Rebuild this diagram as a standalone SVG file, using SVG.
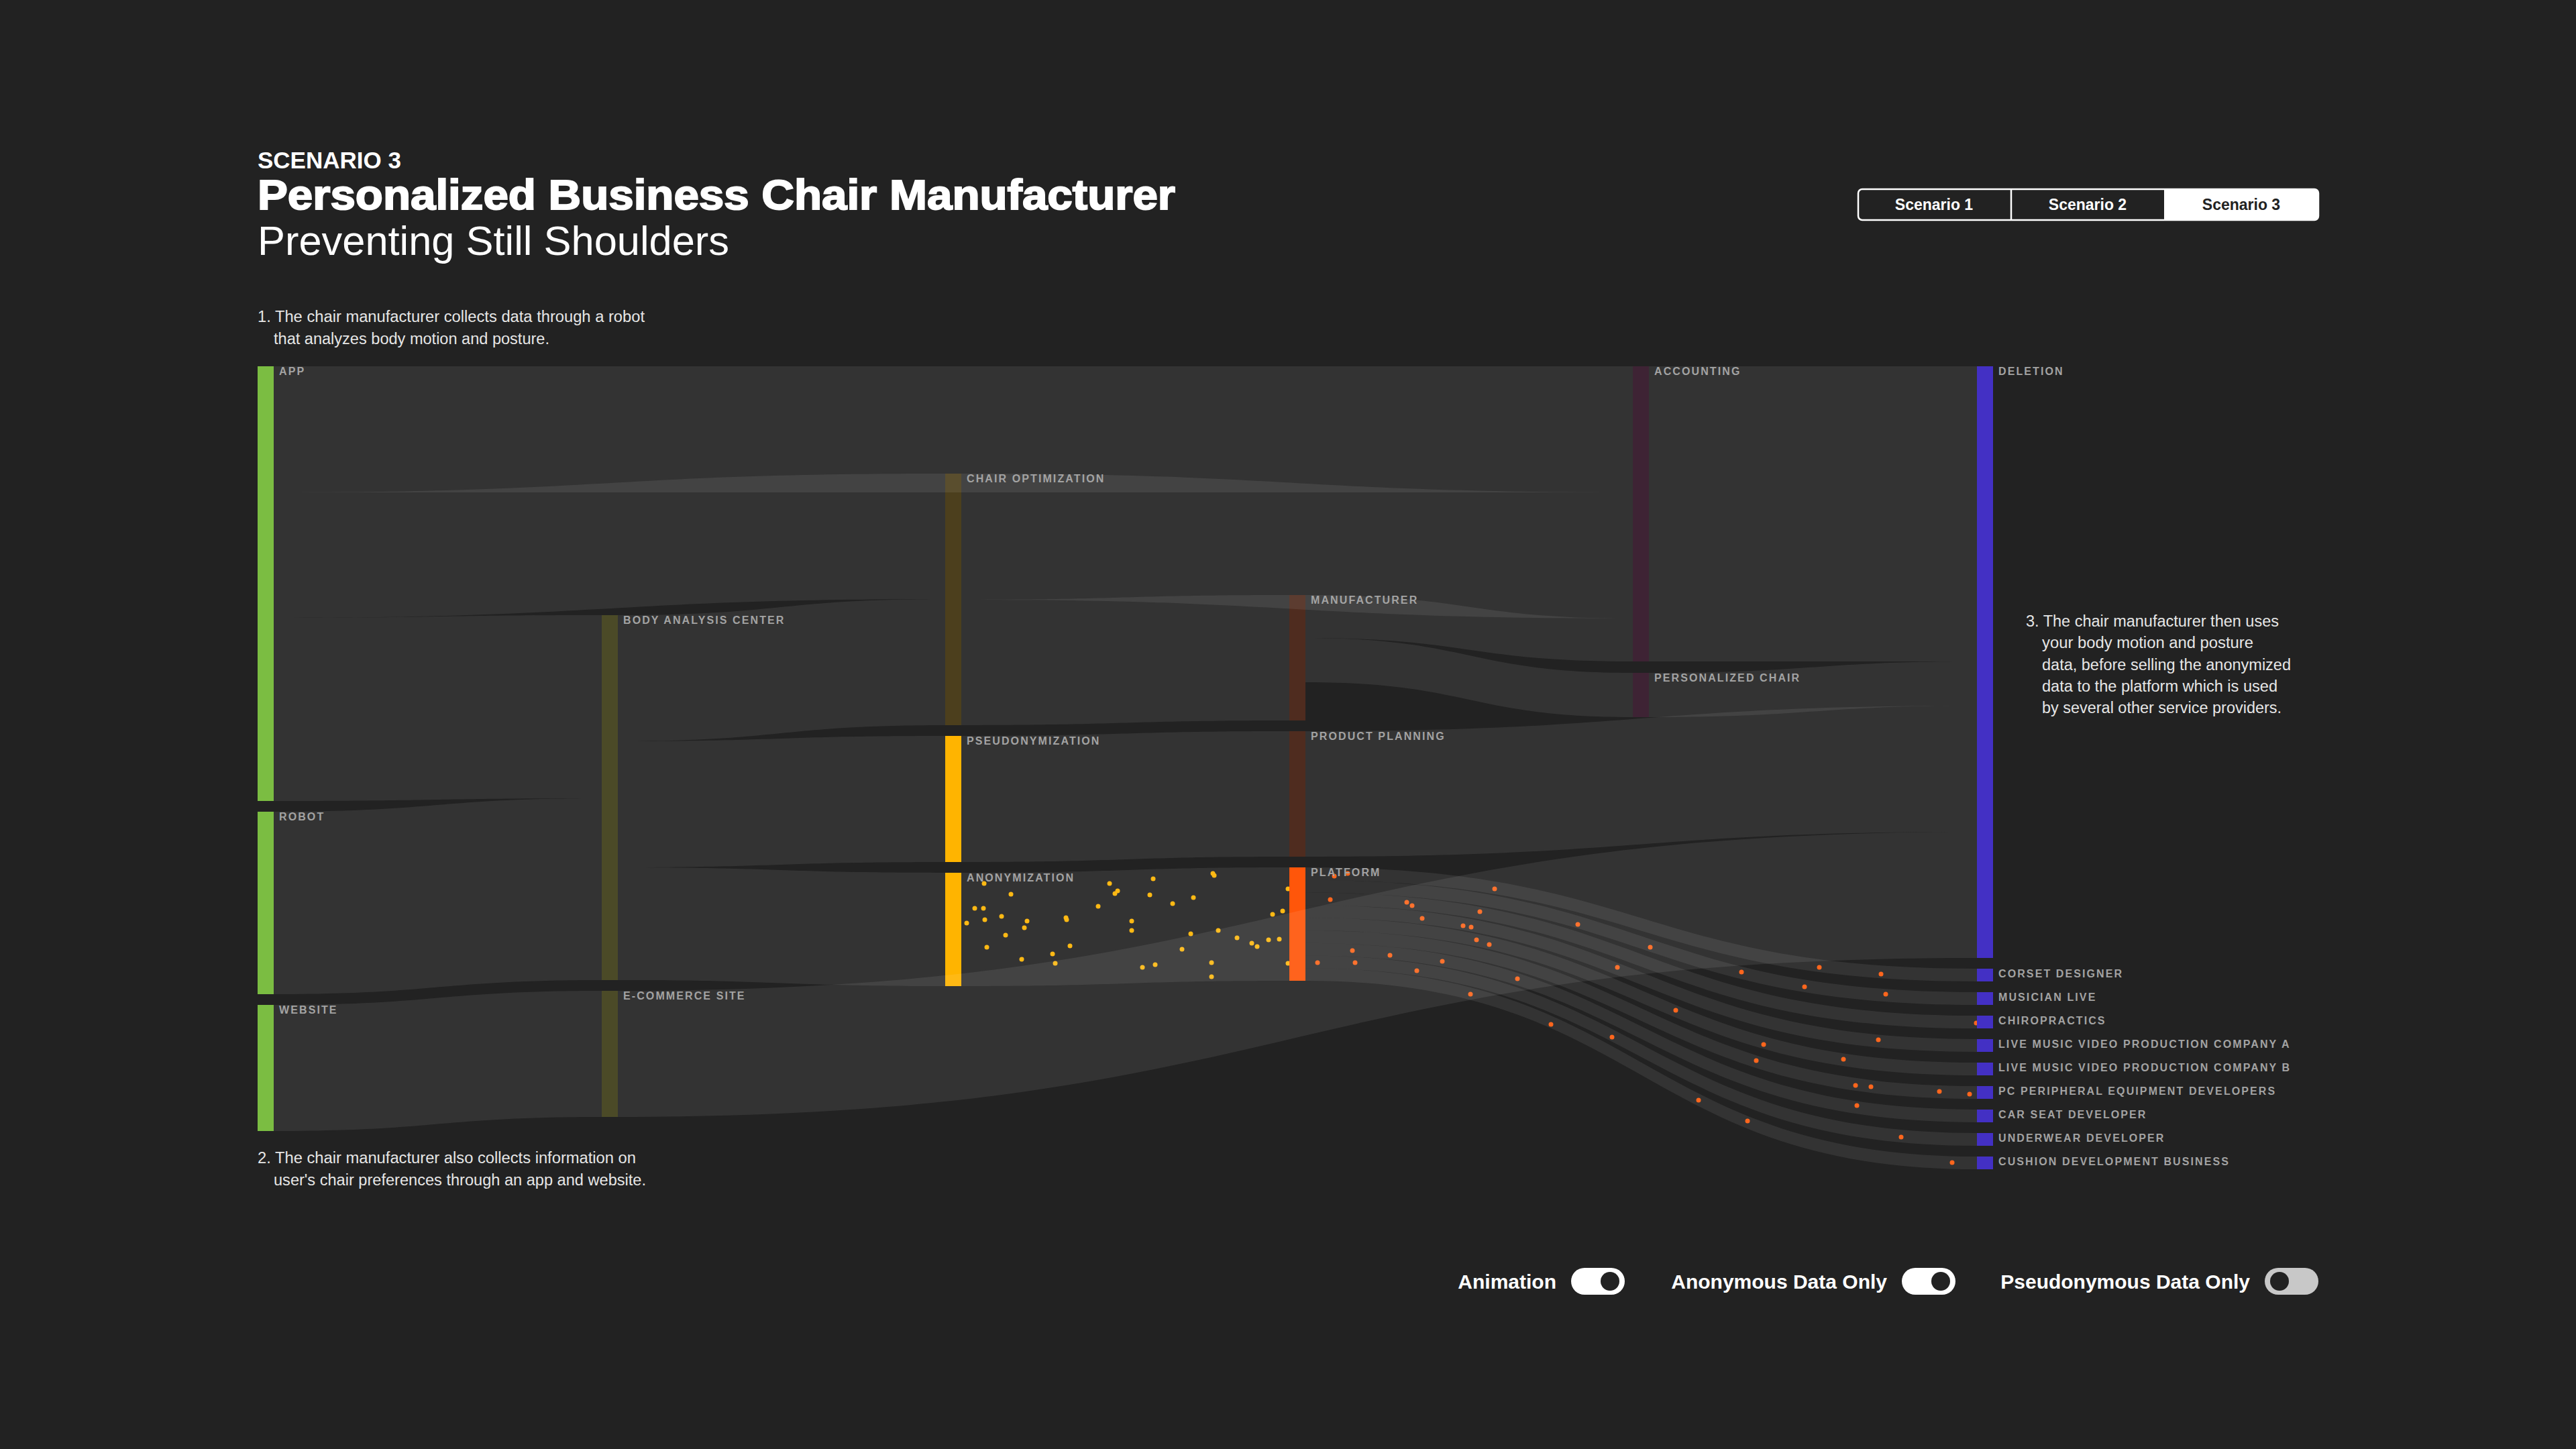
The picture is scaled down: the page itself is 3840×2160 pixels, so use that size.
<svg xmlns="http://www.w3.org/2000/svg" width="3840" height="2160" viewBox="0 0 3840 2160">
<style>
.lbl{font-family:"Liberation Sans",Arial,sans-serif;font-weight:bold;font-size:16px;letter-spacing:2.1px;fill:#a3a3a3}
.para{font-family:"Liberation Sans",Arial,sans-serif;font-size:23.5px;fill:#e6e6e6}
.lnk{fill:#ffffff;fill-opacity:0.077}
.ydot{fill:#ffb400}
.odot{fill:#ff5a0a}
.btn{font-family:"Liberation Sans",Arial,sans-serif;font-weight:bold;font-size:23px;text-anchor:middle}
.tgl{font-family:"Liberation Sans",Arial,sans-serif;font-weight:bold;font-size:30px;fill:#ffffff;text-anchor:end}
</style>
<rect x="0" y="0" width="3840" height="2160" fill="#222222"/>

<g id="header">
<text x="384" y="251" font-family="Liberation Sans, Arial, sans-serif" font-weight="bold" font-size="35" fill="#ffffff">SCENARIO 3</text>
<text x="384" y="312" font-family="Liberation Sans, Arial, sans-serif" font-weight="bold" font-size="63" fill="#ffffff" stroke="#ffffff" stroke-width="2" textLength="1368" lengthAdjust="spacingAndGlyphs">Personalized Business Chair Manufacturer</text>
<text x="384" y="380" font-family="Liberation Sans, Arial, sans-serif" font-weight="300" font-size="62" fill="#ffffff" textLength="703" lengthAdjust="spacingAndGlyphs">Preventing Still Shoulders</text>
</g>

<g id="scenario-buttons">
<path d="M3226 282 H3450 A6 6 0 0 1 3456 288 V322 A6 6 0 0 1 3450 328 H3226 Z" fill="#ffffff"/>
<rect x="2770" y="282" width="686" height="46" rx="6" fill="none" stroke="#ffffff" stroke-width="2.5"/>
<line x1="2998" y1="282" x2="2998" y2="328" stroke="#ffffff" stroke-width="2.5"/>
<text class="btn" x="2883" y="313" fill="#ffffff">Scenario 1</text>
<text class="btn" x="3112" y="313" fill="#ffffff">Scenario 2</text>
<text class="btn" x="3341" y="313" fill="#222222">Scenario 3</text>
</g>

<g id="notes">
<text class="para" x="384" y="480" textLength="577" lengthAdjust="spacingAndGlyphs">1. The chair manufacturer collects data through a robot</text>
<text class="para" x="408" y="513" textLength="411" lengthAdjust="spacingAndGlyphs">that analyzes body motion and posture.</text>
<text class="para" x="384" y="1734" textLength="564" lengthAdjust="spacingAndGlyphs">2. The chair manufacturer also collects information on</text>
<text class="para" x="408" y="1767" textLength="555" lengthAdjust="spacingAndGlyphs">user's chair preferences through an app and website.</text>
<text class="para" x="3020" y="934" textLength="377" lengthAdjust="spacingAndGlyphs">3. The chair manufacturer then uses</text>
<text class="para" x="3044" y="966" textLength="315" lengthAdjust="spacingAndGlyphs">your body motion and posture</text>
<text class="para" x="3044" y="999" textLength="371" lengthAdjust="spacingAndGlyphs">data, before selling the anonymized</text>
<text class="para" x="3044" y="1031" textLength="351" lengthAdjust="spacingAndGlyphs">data to the platform which is used</text>
<text class="para" x="3044" y="1063" textLength="357" lengthAdjust="spacingAndGlyphs">by several other service providers.</text>
</g>

<g id="particles">
<g class="ydot">
<circle cx="1467" cy="1317" r="3.5"/><circle cx="1507" cy="1333" r="3.5"/><circle cx="1453" cy="1354" r="3.5"/><circle cx="1466" cy="1354" r="3.5"/><circle cx="1493" cy="1366" r="3.5"/><circle cx="1441" cy="1376" r="3.5"/><circle cx="1468" cy="1371" r="3.5"/><circle cx="1531" cy="1373" r="3.5"/><circle cx="1527" cy="1383" r="3.5"/><circle cx="1499" cy="1394" r="3.5"/><circle cx="1471" cy="1412" r="3.5"/><circle cx="1523" cy="1430" r="3.5"/><circle cx="1569" cy="1422" r="3.5"/><circle cx="1573" cy="1436" r="3.5"/><circle cx="1595" cy="1410" r="3.5"/><circle cx="1589" cy="1368" r="3.5"/><circle cx="1590" cy="1371" r="3.5"/><circle cx="1637" cy="1351" r="3.5"/><circle cx="1654" cy="1317" r="3.5"/><circle cx="1666" cy="1328" r="3.5"/><circle cx="1662" cy="1332" r="3.5"/><circle cx="1687" cy="1373" r="3.5"/><circle cx="1687" cy="1387" r="3.5"/><circle cx="1719" cy="1310" r="3.5"/><circle cx="1714" cy="1334" r="3.5"/><circle cx="1748" cy="1347" r="3.5"/><circle cx="1779" cy="1338" r="3.5"/><circle cx="1808" cy="1302" r="3.5"/><circle cx="1810" cy="1305" r="3.5"/><circle cx="1775" cy="1392" r="3.5"/><circle cx="1762" cy="1415" r="3.5"/><circle cx="1703" cy="1442" r="3.5"/><circle cx="1722" cy="1438" r="3.5"/><circle cx="1806" cy="1435" r="3.5"/><circle cx="1806" cy="1456" r="3.5"/><circle cx="1816" cy="1387" r="3.5"/><circle cx="1844" cy="1398" r="3.5"/><circle cx="1866" cy="1406" r="3.5"/><circle cx="1874" cy="1411" r="3.5"/><circle cx="1891" cy="1401" r="3.5"/><circle cx="1907" cy="1400" r="3.5"/><circle cx="1897" cy="1363" r="3.5"/><circle cx="1912" cy="1358" r="3.5"/><circle cx="1920" cy="1325" r="3.5"/><circle cx="1920" cy="1436" r="3.5"/>
</g>
<g class="odot">
<circle cx="1989" cy="1306" r="3.5"/><circle cx="2009" cy="1302" r="3.5"/><circle cx="1983" cy="1341" r="3.5"/><circle cx="2097" cy="1345" r="3.5"/><circle cx="2105" cy="1350" r="3.5"/><circle cx="2120" cy="1369" r="3.5"/><circle cx="2206" cy="1359" r="3.5"/><circle cx="2228" cy="1325" r="3.5"/><circle cx="2181" cy="1380" r="3.5"/><circle cx="2193" cy="1382" r="3.5"/><circle cx="2201" cy="1401" r="3.5"/><circle cx="2220" cy="1408" r="3.5"/><circle cx="2016" cy="1417" r="3.5"/><circle cx="2072" cy="1424" r="3.5"/><circle cx="2020" cy="1435" r="3.5"/><circle cx="1964" cy="1435" r="3.5"/><circle cx="2150" cy="1433" r="3.5"/><circle cx="2112" cy="1447" r="3.5"/><circle cx="2262" cy="1459" r="3.5"/><circle cx="2192" cy="1482" r="3.5"/><circle cx="2312" cy="1527" r="3.5"/><circle cx="2403" cy="1546" r="3.5"/><circle cx="2352" cy="1378" r="3.5"/><circle cx="2411" cy="1442" r="3.5"/><circle cx="2460" cy="1412" r="3.5"/>
<circle cx="2596" cy="1449" r="3.5"/><circle cx="2712" cy="1442" r="3.5"/><circle cx="2804" cy="1452" r="3.5"/><circle cx="2690" cy="1471" r="3.5"/><circle cx="2811" cy="1482" r="3.5"/><circle cx="2498" cy="1506" r="3.5"/><circle cx="2946" cy="1525" r="3.5"/><circle cx="2629" cy="1557" r="3.5"/><circle cx="2800" cy="1550" r="3.5"/><circle cx="2618" cy="1581" r="3.5"/><circle cx="2748" cy="1579" r="3.5"/><circle cx="2766" cy="1618" r="3.5"/><circle cx="2789" cy="1620" r="3.5"/><circle cx="2891" cy="1627" r="3.5"/><circle cx="2936" cy="1631" r="3.5"/><circle cx="2532" cy="1640" r="3.5"/><circle cx="2768" cy="1648" r="3.5"/><circle cx="2605" cy="1671" r="3.5"/><circle cx="2834" cy="1695" r="3.5"/><circle cx="2910" cy="1733" r="3.5"/>
</g>
</g>

<g id="node-app"><rect x="384" y="546" width="24" height="648" fill="#7bbd42"/></g>
<g id="node-robot"><rect x="384" y="1210" width="24" height="272" fill="#7bbd42"/></g>
<g id="node-website"><rect x="384" y="1498" width="24" height="188" fill="#7bbd42"/></g>
<g id="node-body-analysis"><rect x="897" y="917" width="24" height="544" fill="#4b4a27"/></g>
<g id="node-ecommerce"><rect x="897" y="1477" width="24" height="188" fill="#4b4a27"/></g>
<g id="node-chair-opt"><rect x="1409" y="706" width="24" height="375" fill="#4c3f1d"/></g>
<g id="node-pseudo"><rect x="1409" y="1097" width="24" height="188" fill="#ffb400"/></g>
<g id="node-anon"><rect x="1409" y="1301" width="24" height="169" fill="#ffb400"/></g>
<g id="node-manufacturer"><rect x="1922" y="887" width="24" height="187" fill="#4f2c1f"/></g>
<g id="node-product-planning"><rect x="1922" y="1090" width="24" height="187" fill="#4f2c1f"/></g>
<g id="node-platform"><rect x="1922" y="1293" width="24" height="169" fill="#ff560a"/></g>
<g id="node-accounting"><rect x="2434" y="546" width="24" height="440" fill="#3e2334"/></g>
<g id="node-personalized-chair"><rect x="2434" y="1003" width="24" height="66" fill="#3e2334"/></g>
<g id="node-deletion"><rect x="2947" y="546" width="24" height="882" fill="#4330c4"/></g>
<g id="node-corset"><rect x="2947" y="1444" width="24" height="19" fill="#4330c4"/></g>
<g id="node-musician"><rect x="2947" y="1479" width="24" height="19" fill="#4330c4"/></g>
<g id="node-chiro"><rect x="2947" y="1514" width="24" height="19" fill="#4330c4"/></g>
<g id="node-lmvpc-a"><rect x="2947" y="1549" width="24" height="19" fill="#4330c4"/></g>
<g id="node-lmvpc-b"><rect x="2947" y="1584" width="24" height="19" fill="#4330c4"/></g>
<g id="node-pc-periph"><rect x="2947" y="1619" width="24" height="19" fill="#4330c4"/></g>
<g id="node-car-seat"><rect x="2947" y="1654" width="24" height="19" fill="#4330c4"/></g>
<g id="node-underwear"><rect x="2947" y="1689" width="24" height="19" fill="#4330c4"/></g>
<g id="node-cushion"><rect x="2947" y="1724" width="24" height="19" fill="#4330c4"/></g>

<g id="connectors" class="lnk">
<path d="M408 546 H2434 V734 H408 Z"/>
<path d="M408 734 C908.5 734 908.5 706 1409 706 L1409 893 C908.5 893 908.5 921 408 921 Z"/>
<path d="M408 921 C652.5 921 652.5 917 897 917 L897 1190 C652.5 1190 652.5 1194 408 1194 Z"/>
<path d="M408 1210 C652.5 1210 652.5 1190 897 1190 L897 1461 C652.5 1461 652.5 1482 408 1482 Z"/>
<path d="M408 1498 C652.5 1498 652.5 1477 897 1477 L897 1665 C652.5 1665 652.5 1686 408 1686 Z"/>
<path d="M921 917 C1165 917 1165 893 1409 893 L1409 1081 C1165 1081 1165 1105 921 1105 Z"/>
<path d="M921 1105 C1165 1105 1165 1097 1409 1097 L1409 1285 C1165 1285 1165 1293 921 1293 Z"/>
<path d="M921 1293 C1165 1293 1165 1301 1409 1301 L1409 1470 C1165 1470 1165 1461 921 1461 Z"/>
<path d="M921 1477 C1934 1477 1934 1240 2947 1240 L2947 1428 C1934 1428 1934 1665 921 1665 Z"/>
<path d="M1433 706 C1933.5 706 1933.5 734 2434 734 L2434 922 C1933.5 922 1933.5 894 1433 894 Z"/>
<path d="M1433 894 C1677.5 894 1677.5 887 1922 887 L1922 1074 C1677.5 1074 1677.5 1081 1433 1081 Z"/>
<path d="M1433 1097 C1677.5 1097 1677.5 1090 1922 1090 L1922 1277 C1677.5 1277 1677.5 1285 1433 1285 Z"/>
<path d="M1433 1301 C1677.5 1301 1677.5 1293 1922 1293 L1922 1462 C1677.5 1462 1677.5 1470 1433 1470 Z"/>
<path d="M1946 887 C2190 887 2190 922 2434 922 L2434 986 C2190 986 2190 951 1946 951 Z"/>
<path d="M1946 951 C2190 951 2190 1003 2434 1003 L2434 1069 C2190 1069 2190 1017 1946 1017 Z"/>
<path d="M2458 546 H2947 V986 H2458 Z"/>
<path d="M2458 1003 C2702.5 1003 2702.5 986 2947 986 L2947 1052 C2702.5 1052 2702.5 1069 2458 1069 Z"/>
<path d="M1946 1090 C2446.5 1090 2446.5 1052 2947 1052 L2947 1240 C2446.5 1240 2446.5 1277 1946 1277 Z"/>
<path d="M1946 1293 C2446.5 1293 2446.5 1444 2947 1444 L2947 1463 C2446.5 1463 2446.5 1311.8 1946 1311.8 Z"/>
<path d="M1946 1311.8 C2446.5 1311.8 2446.5 1479 2947 1479 L2947 1498 C2446.5 1498 2446.5 1330.6 1946 1330.6 Z"/>
<path d="M1946 1330.6 C2446.5 1330.6 2446.5 1514 2947 1514 L2947 1533 C2446.5 1533 2446.5 1349.3 1946 1349.3 Z"/>
<path d="M1946 1349.3 C2446.5 1349.3 2446.5 1549 2947 1549 L2947 1568 C2446.5 1568 2446.5 1368.1 1946 1368.1 Z"/>
<path d="M1946 1368.1 C2446.5 1368.1 2446.5 1584 2947 1584 L2947 1603 C2446.5 1603 2446.5 1386.9 1946 1386.9 Z"/>
<path d="M1946 1386.9 C2446.5 1386.9 2446.5 1619 2947 1619 L2947 1638 C2446.5 1638 2446.5 1405.7 1946 1405.7 Z"/>
<path d="M1946 1405.7 C2446.5 1405.7 2446.5 1654 2947 1654 L2947 1673 C2446.5 1673 2446.5 1424.4 1946 1424.4 Z"/>
<path d="M1946 1424.4 C2446.5 1424.4 2446.5 1689 2947 1689 L2947 1708 C2446.5 1708 2446.5 1443.2 1946 1443.2 Z"/>
<path d="M1946 1443.2 C2446.5 1443.2 2446.5 1724 2947 1724 L2947 1743 C2446.5 1743 2446.5 1462 1946 1462 Z"/>
</g>

<g id="labels">
<text class="lbl" x="416" y="559">APP</text>
<text class="lbl" x="416" y="1223">ROBOT</text>
<text class="lbl" x="416" y="1511">WEBSITE</text>
<text class="lbl" x="929" y="930">BODY ANALYSIS CENTER</text>
<text class="lbl" x="929" y="1490">E-COMMERCE SITE</text>
<text class="lbl" x="1441" y="719">CHAIR OPTIMIZATION</text>
<text class="lbl" x="1441" y="1110">PSEUDONYMIZATION</text>
<text class="lbl" x="1441" y="1314">ANONYMIZATION</text>
<text class="lbl" x="1954" y="900">MANUFACTURER</text>
<text class="lbl" x="1954" y="1103">PRODUCT PLANNING</text>
<text class="lbl" x="1954" y="1306">PLATFORM</text>
<text class="lbl" x="2466" y="559">ACCOUNTING</text>
<text class="lbl" x="2466" y="1016">PERSONALIZED CHAIR</text>
<text class="lbl" x="2979" y="559">DELETION</text>
<text class="lbl" x="2979" y="1457">CORSET DESIGNER</text>
<text class="lbl" x="2979" y="1492">MUSICIAN LIVE</text>
<text class="lbl" x="2979" y="1527">CHIROPRACTICS</text>
<text class="lbl" x="2979" y="1562">LIVE MUSIC VIDEO PRODUCTION COMPANY A</text>
<text class="lbl" x="2979" y="1597">LIVE MUSIC VIDEO PRODUCTION COMPANY B</text>
<text class="lbl" x="2979" y="1632">PC PERIPHERAL EQUIPMENT DEVELOPERS</text>
<text class="lbl" x="2979" y="1667">CAR SEAT DEVELOPER</text>
<text class="lbl" x="2979" y="1702">UNDERWEAR DEVELOPER</text>
<text class="lbl" x="2979" y="1737">CUSHION DEVELOPMENT BUSINESS</text>
</g>

<g id="toggles">
<text class="tgl" x="2320" y="1921">Animation</text>
<rect x="2342" y="1890" width="80" height="40" rx="20" fill="#ffffff"/>
<circle cx="2400" cy="1910" r="14" fill="#222222"/>
<text class="tgl" x="2813" y="1921">Anonymous Data Only</text>
<rect x="2835" y="1890" width="80" height="40" rx="20" fill="#ffffff"/>
<circle cx="2893" cy="1910" r="14" fill="#222222"/>
<text class="tgl" x="3354" y="1921">Pseudonymous Data Only</text>
<rect x="3376" y="1890" width="80" height="40" rx="20" fill="#c8c8c8"/>
<circle cx="3398" cy="1910" r="14" fill="#222222"/>
</g>
</svg>
